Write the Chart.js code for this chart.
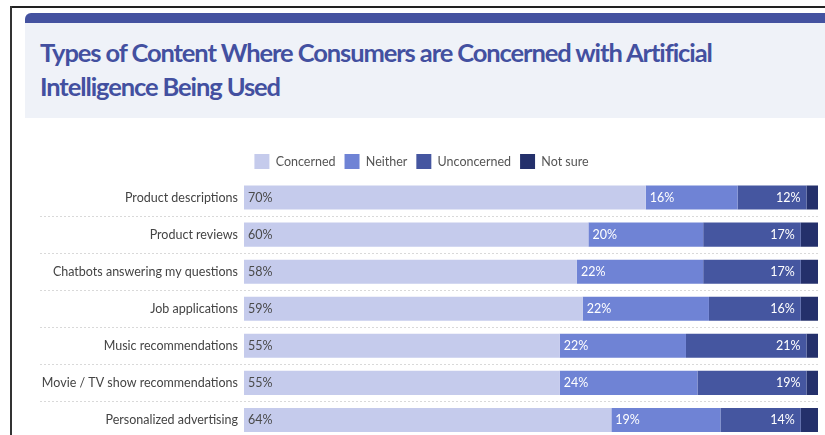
<!DOCTYPE html>
<html>
<head>
<meta charset="utf-8">
<script src="https://cdn.jsdelivr.net/npm/chart.js@4.4.1/dist/chart.umd.min.js"></script>
<style>
  html, body { margin: 0; padding: 0; }
  body { width: 825px; height: 435px; overflow: hidden; background: #fff; position: relative; font-family: Lato, "Noto Sans", sans-serif; }
  .rule-top { position: absolute; left: 10px; top: 6px; width: 815px; height: 2px; background: #222; }
  .rule-left { position: absolute; left: 10px; top: 6px; width: 2px; height: 440px; background: #333; }
  .card { position: absolute; left: 25px; top: 13px; width: 820px; height: 440px; background: #fff; }
  .stripe { height: 10px; background: #4452a0; border-radius: 6px 6px 0 0; }
  .head { height: 95px; background: #eff2f8; padding: 0 0 0 15px; box-sizing: border-box; }
  .head h1 { margin: 0; padding-top: 12px; font-size: 25.5px; line-height: 34px; font-weight: 700; color: #4350a0; letter-spacing: -1.1px; }
  #wrap { position: absolute; left: 25px; top: 145px; width: 798px; height: 307px; }
</style>
</head>
<body>
<div class="rule-top"></div>
<div class="rule-left"></div>
<div class="card">
  <div class="stripe"></div>
  <div class="head">
    <h1>Types of Content Where Consumers are Concerned with Artificial<br>Intelligence Being Used</h1>
  </div>
</div>
<div id="wrap"><canvas id="chart"></canvas></div>
<script>
const categories = [
  "Product descriptions",
  "Product reviews",
  "Chatbots answering my questions",
  "Job applications",
  "Music recommendations",
  "Movie / TV show recommendations",
  "Personalized advertising",
];
const seriesNames = ["Concerned", "Neither", "Unconcerned", "Not sure"];
const concerned = [70, 60, 58, 59, 55, 55, 64];
const neither = [16, 20, 22, 22, 22, 24, 19];
const unconcerned = [12, 17, 17, 16, 21, 19, 14];
const notSure = [2, 3, 3, 3, 2, 2, 3];
const colors = ["#c5cbec", "#6f83d5", "#4556a0", "#24306b"];

const FONT = "Lato, 'Noto Sans', sans-serif";

// dashed separators between rows, reaching into the label column
const rowLines = {
  id: "rowLines",
  beforeDatasetsDraw(chart) {
    const { ctx, chartArea, scales } = chart;
    const y = scales.y;
    const step = y.getPixelForValue(1) - y.getPixelForValue(0);
    ctx.save();
    ctx.strokeStyle = "#d9d9d9";
    ctx.lineWidth = 1;
    ctx.setLineDash([2, 2]);
    for (let i = 0; i < categories.length - 1; i++) {
      const py = Math.round(y.getPixelForValue(i) + step / 2) + 0.5;
      ctx.beginPath();
      ctx.moveTo(y.left + 15, py);
      ctx.lineTo(chartArea.right, py);
      ctx.stroke();
    }
    ctx.restore();
  },
};

// percentage labels inside the bars
const barLabels = {
  id: "barLabels",
  afterDatasetsDraw(chart) {
    const ctx = chart.ctx;
    ctx.save();
    ctx.font = "12.5px " + FONT;
    ctx.textBaseline = "middle";
    chart.data.datasets.forEach((ds, di) => {
      if (di === 3) return;
      const meta = chart.getDatasetMeta(di);
      meta.data.forEach((bar, i) => {
        const txt = ds.data[i] + "%";
        if (di === 2) {
          ctx.textAlign = "right";
          ctx.fillStyle = "#ffffff";
          ctx.fillText(txt, bar.x - 6, bar.y);
        } else {
          ctx.textAlign = "left";
          ctx.fillStyle = di === 0 ? "#4a4a4a" : "#ffffff";
          ctx.fillText(txt, bar.base + 4, bar.y);
        }
      });
    });
    ctx.restore();
  },
};

const seriesData = [concerned, neither, unconcerned, notSure];

new Chart(document.getElementById("chart"), {
  type: "bar",
  plugins: [rowLines, barLabels],
  data: {
    labels: categories,
    datasets: seriesNames.map((name, i) => ({
      label: name,
      data: seriesData[i],
      backgroundColor: colors[i],
      borderWidth: 0,
      barPercentage: 0.65,
      categoryPercentage: 1,
    })),
  },
  options: {
    indexAxis: "y",
    responsive: true,
    maintainAspectRatio: false,
    animation: false,
    layout: { padding: { left: 0, right: 5, top: 0, bottom: 0 } },
    plugins: {
      tooltip: { enabled: false },
      legend: {
        position: "top",
        labels: {
          boxWidth: 15,
          boxHeight: 15,
          padding: 9,
          color: "#555",
          font: { family: FONT, size: 12.5 },
        },
      },
    },
    scales: {
      x: { stacked: true, min: 0, max: 100, display: false },
      y: {
        stacked: true,
        grid: { display: false, drawTicks: false },
        border: { display: false },
        ticks: { color: "#444", padding: 6, font: { family: FONT, size: 12.5 } },
        afterFit(scale) { scale.width = 219; },
      },
    },
  },
});
</script>
</body>
</html>
